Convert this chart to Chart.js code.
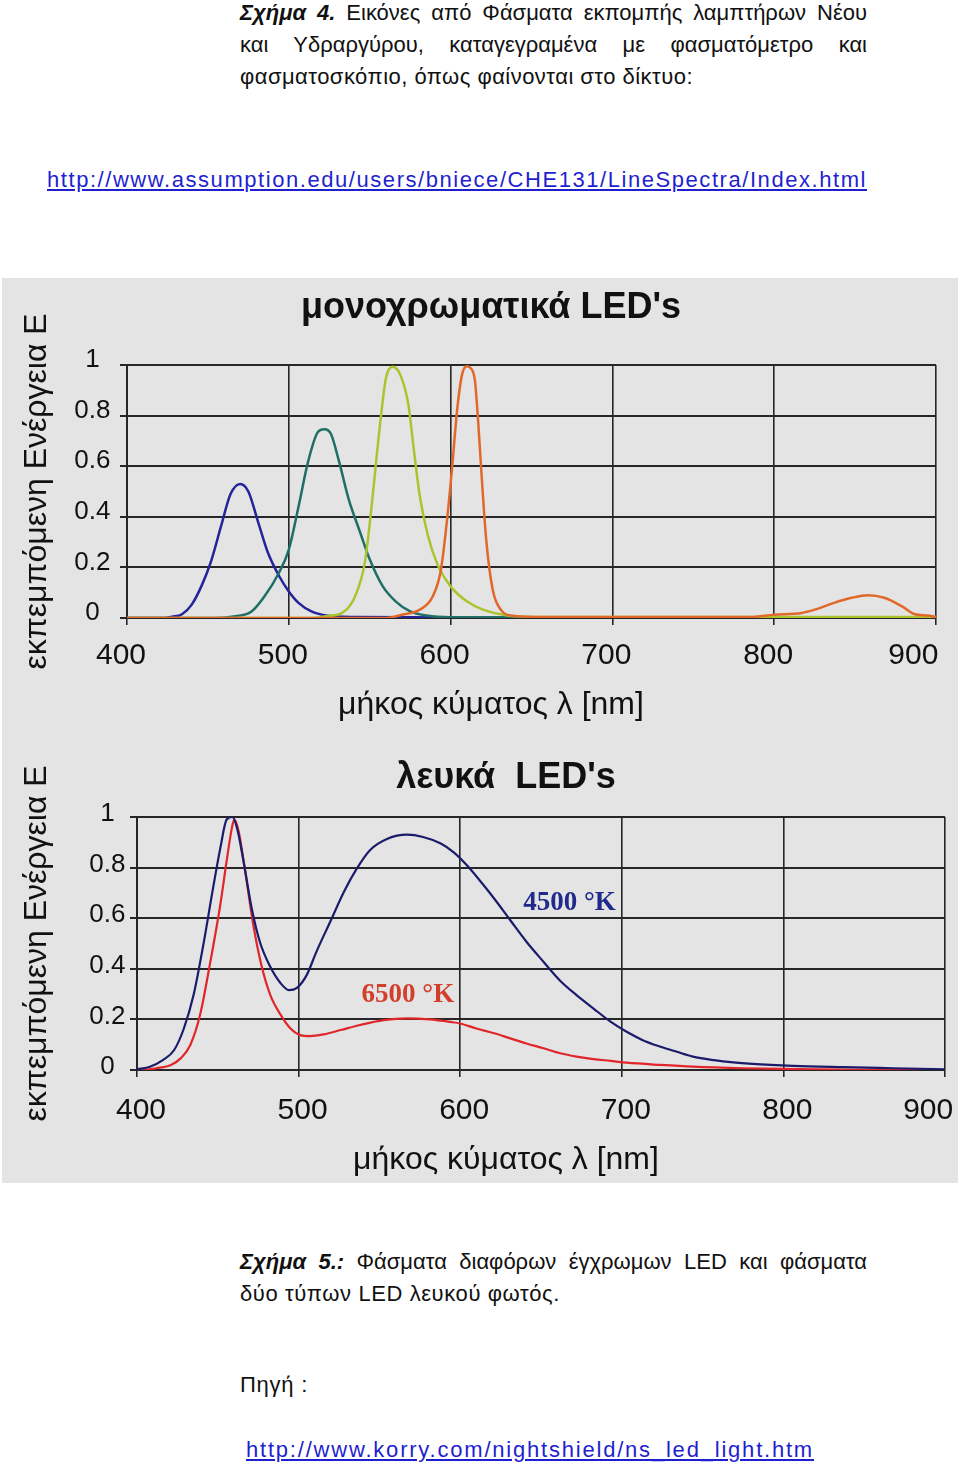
<!DOCTYPE html>
<html lang="el">
<head>
<meta charset="utf-8">
<title>Φάσματα LED</title>
<script src="https://cdn.jsdelivr.net/npm/chart.js@4.4.1/dist/chart.umd.min.js"></script>
<style>
  html, body { margin: 0; padding: 0; background: #fff; }
  body { position: relative; width: 960px; height: 1467px; overflow: hidden;
         font-family: "Liberation Sans", Arial, sans-serif; font-size: 22px; color: #111; }
  .txt { position: absolute; line-height: 32px; white-space: nowrap; }
  .just { text-align: justify; text-align-last: justify; white-space: normal; }
  .fig { font-weight: bold; font-style: italic; }
  a { color: #1f1fd0; text-decoration: underline; }
  #panel { position: absolute; left: 2px; top: 278px; width: 956px; height: 905px; background: #e4e4e4; }
  canvas { position: absolute; left: 2px; }
</style>
</head>
<body>

<div class="txt just" style="left:240px; top:-3px; width:627px;"><span class="fig">Σχήμα 4.</span> Εικόνες από Φάσματα εκπομπής λαμπτήρων Νέου</div>
<div class="txt just" style="left:240px; top:29px; width:627px;">και Υδραργύρου, καταγεγραμένα με φασματόμετρο και</div>
<div class="txt fit" data-w="453" style="left:240px; top:61px;">φασματοσκόπιο, όπως φαίνονται στο δίκτυο:</div>
<div class="txt fit" data-w="820" style="left:47px; top:164px;"><a href="http://www.assumption.edu/users/bniece/CHE131/LineSpectra/Index.html">http://www.assumption.edu/users/bniece/CHE131/LineSpectra/Index.html</a></div>

<div id="panel"></div>
<canvas id="monoChart" width="956" height="452" style="top:278px;"></canvas>
<canvas id="whiteChart" width="956" height="453" style="top:730px;"></canvas>

<div class="txt just" style="left:240px; top:1246px; width:627px;"><span class="fig">Σχήμα 5.:</span> Φάσματα διαφόρων έγχρωμων LED και φάσματα</div>
<div class="txt fit" data-w="320" style="left:240px; top:1278px;">δύο τύπων LED λευκού φωτός.</div>
<div class="txt fit" data-w="68" style="left:240px; top:1369px;">Πηγή :</div>
<div class="txt fit" data-w="568" style="left:246px; top:1434px;"><a href="http://www.korry.com/nightshield/ns_led_light.htm">http://www.korry.com/nightshield/ns_led_light.htm</a></div>

<script>
// μονοχρωματικά LED's (wavelength nm / relative energy)
const monoBlueNm = [400, 422, 428, 434, 440, 446, 452, 458, 464, 470, 475, 481, 487, 494, 500, 506, 514, 523, 540, 620, 900];
const monoBlueE = [0, 0, 0.005, 0.015, 0.053, 0.126, 0.225, 0.36, 0.49, 0.53, 0.5, 0.38, 0.26, 0.166, 0.105, 0.06, 0.026, 0.01, 0.004, 0.002, 0];

const monoTealNm = [400, 455, 467, 477, 485, 494, 500, 506, 512, 518, 522, 526, 531, 537, 544, 550, 558, 566, 575, 585, 600, 900];
const monoTealE = [0, 0, 0.007, 0.026, 0.086, 0.18, 0.27, 0.44, 0.62, 0.735, 0.746, 0.728, 0.62, 0.47, 0.34, 0.232, 0.126, 0.066, 0.026, 0.01, 0.003, 0];

const monoGreenNm = [400, 515, 523, 533, 541, 547, 551, 554, 557, 560, 564, 569, 574, 577, 581, 586, 592, 600, 610, 620, 635, 660, 900];
const monoGreenE = [0, 0, 0.007, 0.02, 0.086, 0.22, 0.43, 0.62, 0.8, 0.947, 0.993, 0.96, 0.84, 0.68, 0.48, 0.325, 0.21, 0.125, 0.066, 0.033, 0.01, 0.004, 0.004];

const monoOrangeNm = [400, 560, 570, 581, 589, 594, 598, 601, 604, 607, 610, 612, 615, 617, 619, 622, 626, 631, 637, 660, 785, 800, 817, 825, 837, 848, 858, 868, 879, 887, 895, 900];
const monoOrangeE = [0, 0, 0.013, 0.033, 0.086, 0.19, 0.4, 0.6, 0.82, 0.96, 0.995, 0.99, 0.94, 0.78, 0.58, 0.31, 0.113, 0.033, 0.01, 0.004, 0.004, 0.013, 0.02, 0.033, 0.06, 0.08, 0.09, 0.08, 0.046, 0.015, 0.01, 0.004];

// λευκά LED's
const led4500Nm = [400, 408, 416, 423, 429, 435, 441, 447, 451.5, 455.5, 459, 462, 466, 471, 476, 482, 489, 494, 499, 505, 511, 520, 528, 536, 544, 555, 567, 577, 588, 596, 604, 612, 621, 631, 641, 651.5, 662, 672, 682.5, 693, 703, 713, 724, 734, 744, 757, 769, 786, 806, 837, 868, 900];
const led4500E = [0.003, 0.013, 0.039, 0.079, 0.164, 0.296, 0.493, 0.717, 0.875, 0.99, 1.0, 0.954, 0.822, 0.638, 0.507, 0.414, 0.342, 0.316, 0.325, 0.375, 0.467, 0.592, 0.704, 0.796, 0.868, 0.914, 0.93, 0.921, 0.895, 0.86, 0.81, 0.75, 0.678, 0.592, 0.507, 0.428, 0.352, 0.296, 0.243, 0.191, 0.151, 0.118, 0.092, 0.072, 0.053, 0.039, 0.03, 0.022, 0.016, 0.011, 0.007, 0.003];

const led6500Nm = [400, 404, 412, 421, 427, 433, 439, 445, 451.5, 455.7, 458.8, 460.2, 463, 467, 472, 477, 482.5, 489, 495, 501, 507, 515.5, 526, 538, 552.6, 567, 581, 594, 600, 610, 621, 631, 641, 651.5, 662, 672, 682.5, 693, 703, 724, 744, 775, 806, 847, 900];
const led6500E = [0, 0, 0.007, 0.02, 0.046, 0.099, 0.217, 0.414, 0.651, 0.836, 0.96, 0.99, 0.941, 0.783, 0.572, 0.414, 0.296, 0.217, 0.164, 0.138, 0.134, 0.141, 0.158, 0.178, 0.197, 0.204, 0.2, 0.19, 0.184, 0.164, 0.145, 0.125, 0.105, 0.086, 0.066, 0.053, 0.043, 0.036, 0.029, 0.02, 0.013, 0.007, 0.004, 0.001, 0];

// colour temperature labels inside the white-LED plot
const tempLabels = ['4500 °K', '6500 °K'];
const tempNm = [639, 539];
const tempE = [0.66, 0.296];
const tempColors = ['#1f2a8c', '#d2402c'];

const FONT = '"Liberation Sans", Arial, sans-serif';
const GRID = '#262626';
const INK = '#111';

// stretch the plain text lines to the widths they have in the scan
document.querySelectorAll('.fit').forEach(el => {
    const w = el.getBoundingClientRect().width;
    const n = el.textContent.length;
    el.style.letterSpacing = ((parseFloat(el.dataset.w) - w) / n) + 'px';
});

function points(nm, e) {
    return nm.map((x, i) => ({ x: x, y: e[i] }));
}

function series(nm, e, color, width) {
    return {
        data: points(nm, e),
        borderColor: color,
        borderWidth: width,
        pointRadius: 0,
        fill: false,
        cubicInterpolationMode: 'monotone'
    };
}

const tempLabelPlugin = {
    id: 'tempLabels',
    afterDatasetsDraw(chart) {
        const { ctx, scales: { x, y } } = chart;
        ctx.save();
        ctx.font = 'bold 27px "Liberation Serif", "DejaVu Serif", serif';
        ctx.textAlign = 'left';
        ctx.textBaseline = 'middle';
        tempLabels.forEach((t, i) => {
            ctx.fillStyle = tempColors[i];
            ctx.fillText(t, x.getPixelForValue(tempNm[i]), y.getPixelForValue(tempE[i]));
        });
        ctx.restore();
    }
};

function createSpectrumChart(chartId, datasets, g) {
    const ctx = document.getElementById(chartId).getContext('2d');
    return new Chart(ctx, {
        type: 'line',
        data: { datasets: datasets },
        options: {
            responsive: false,
            animation: false,
            events: [],
            layout: { padding: { left: g.padLeft, right: g.padRight, top: 0, bottom: 0 } },
            plugins: {
                legend: { display: false },
                tooltip: { enabled: false },
                title: {
                    display: true,
                    text: g.title,
                    color: INK,
                    font: { family: FONT, size: 36, weight: 'bold' },
                    padding: { top: g.titleTop, bottom: g.titleBottom }
                },
                subtitle: {
                    display: true,
                    position: 'bottom',
                    text: 'μήκος κύματος λ [nm]',
                    color: INK,
                    font: { family: FONT, size: 32 },
                    padding: { top: 0, bottom: g.xTitleBottom }
                }
            },
            scales: {
                x: {
                    type: 'linear',
                    min: 400,
                    max: 900,
                    grid: { color: GRID, lineWidth: 1.6, tickLength: 7 },
                    border: { color: GRID, width: 1.6 },
                    ticks: {
                        stepSize: 100,
                        color: INK,
                        font: { family: FONT, size: 30 },
                        padding: g.xTickPad,
                        labelOffset: g.xLabelOffset,
                        maxRotation: 0,
                        autoSkip: false,
                        callback: v => v === 900 ? '900' + ' '.repeat(g.lastSpaces) : String(v)
                    },
                    afterFit: s => { s.height = g.xHeight; s.paddingLeft = 0; s.paddingRight = 0; }
                },
                y: {
                    min: 0,
                    max: 1,
                    grid: { color: GRID, lineWidth: 2, tickLength: 7 },
                    border: { color: GRID, width: 2 },
                    ticks: {
                        stepSize: 0.2,
                        color: INK,
                        crossAlign: 'center',
                        font: { family: FONT, size: 26 },
                        padding: g.yTickPad,
                        labelOffset: g.yLabelOffset,
                        callback: v => String(Math.round(v * 10) / 10)
                    },
                    title: {
                        display: true,
                        text: 'εκπεμπόμενη Ενέργεια Ε',
                        color: INK,
                        font: { family: FONT, size: 32 },
                        padding: { top: g.yTitlePad, bottom: 0 }
                    },
                    afterFit: s => { s.width = g.yWidth; s.paddingTop = 0; s.paddingBottom = 0; }
                }
            }
        },
        plugins: g.plugins || []
    });
}

createSpectrumChart('monoChart', [
    series(monoOrangeNm, monoOrangeE, '#e2682a', 2.5),
    series(monoGreenNm, monoGreenE, '#a9c52e', 2.5),
    series(monoTealNm, monoTealE, '#1f6f66', 2.5),
    series(monoBlueNm, monoBlueE, '#23239a', 2.5)
], {
    title: 'μονοχρωματικά LED\'s',
    padLeft: 44, padRight: 22, yWidth: 81,
    titleTop: 8.4, titleBottom: 35.4,
    xHeight: 67.6, xTitleBottom: 6,
    xTickPad: 13, xLabelOffset: -6, lastSpaces: 4,
    yTickPad: 9.5, yLabelOffset: -5, yTitlePad: -28.2
});

createSpectrumChart('whiteChart', [
    series(led4500Nm, led4500E, '#1b1b6b', 2.2),
    series(led6500Nm, led6500E, '#e0262a', 2.2)
], {
    title: 'λευκά  LED\'s',
    padLeft: 65, padRight: 13, yWidth: 70,
    titleTop: 26.4, titleBottom: 17.4,
    xHeight: 70.6, xTitleBottom: 4,
    xTickPad: 16, xLabelOffset: 4, lastSpaces: 5,
    yTickPad: 4.5, yLabelOffset: -3, yTitlePad: -49.2,
    plugins: [tempLabelPlugin]
});
</script>
</body>
</html>
